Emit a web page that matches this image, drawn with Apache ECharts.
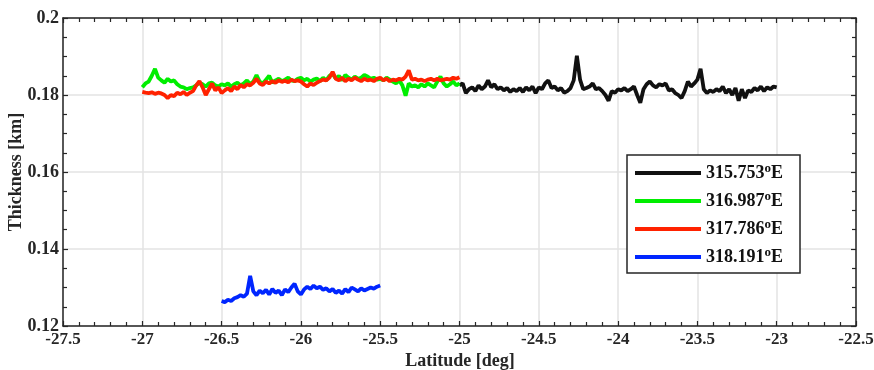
<!DOCTYPE html>
<html>
<head>
<meta charset="utf-8">
<script src="https://cdn.jsdelivr.net/npm/echarts@6/dist/echarts.min.js"></script>
<style>
  html, body { margin: 0; padding: 0; background: #fff; }
  #main { width: 874px; height: 370px; }
</style>
</head>
<body>
<div id="main"></div>
<script>
// sample spacing along latitude (deg)
var STEP = 0.02;

var seriesNames = ['315.753°E', '316.987°E', '317.786°E', '318.191°E'];
var seriesColors = ['#111111', '#00ee00', '#ff2200', '#0026ff'];
var seriesStart = [-25, -27, -27, -26.5];

var xTicks = [-27.5, -27, -26.5, -26, -25.5, -25, -24.5, -24, -23.5, -23, -22.5];
var yTicks = [0.12, 0.14, 0.16, 0.18, 0.2];

// 315.753 E, -25 .. -23
var thick315 = [
  0.1825, 0.1830, 0.1805, 0.1815, 0.1820, 0.1810, 0.1825, 0.1815, 0.1822, 0.1838,
  0.1820, 0.1828, 0.1815, 0.1820, 0.1812, 0.1818, 0.1808, 0.1815, 0.1810, 0.1818,
  0.1808, 0.1820, 0.1812, 0.1822, 0.1805, 0.1820, 0.1815, 0.1830, 0.1838, 0.1818,
  0.1822, 0.1812, 0.1818, 0.1806, 0.1810, 0.1818, 0.1838, 0.1902, 0.1840, 0.1815,
  0.1818, 0.1822, 0.1830, 0.1815, 0.1818, 0.1810, 0.1800, 0.1785, 0.1810, 0.1806,
  0.1815, 0.1812, 0.1818, 0.1810, 0.1815, 0.1822, 0.1800, 0.1780, 0.1815, 0.1828,
  0.1835, 0.1825, 0.1820, 0.1828, 0.1825, 0.1830, 0.1812, 0.1815, 0.1805, 0.1800,
  0.1792, 0.1810, 0.1835, 0.1822, 0.1830, 0.1840, 0.1868, 0.1815, 0.1805, 0.1812,
  0.1808, 0.1815, 0.1810, 0.1822, 0.1805, 0.1815, 0.1800, 0.1818, 0.1785, 0.1815,
  0.1792, 0.1812, 0.1808, 0.1818, 0.1812, 0.1822, 0.1810, 0.1820, 0.1815, 0.1822,
  0.1820
];

// 316.987 E, -27 .. -25
var thick316 = [
  0.1820, 0.1830, 0.1835, 0.1850, 0.1868, 0.1845, 0.1838, 0.1832, 0.1842, 0.1835,
  0.1838, 0.1828, 0.1822, 0.1820, 0.1815, 0.1818, 0.1820, 0.1825, 0.1832, 0.1828,
  0.1822, 0.1830, 0.1832, 0.1825, 0.1822, 0.1828, 0.1825, 0.1830, 0.1822, 0.1828,
  0.1832, 0.1825, 0.1830, 0.1838, 0.1828, 0.1835, 0.1852, 0.1835, 0.1830, 0.1840,
  0.1850, 0.1832, 0.1838, 0.1842, 0.1836, 0.1840, 0.1845, 0.1838, 0.1836, 0.1842,
  0.1845, 0.1838, 0.1842, 0.1835, 0.1840, 0.1843, 0.1836, 0.1845, 0.1838, 0.1850,
  0.1855, 0.1842, 0.1850, 0.1838, 0.1852, 0.1845, 0.1840, 0.1848, 0.1842, 0.1845,
  0.1852, 0.1848, 0.1842, 0.1845, 0.1840, 0.1842, 0.1838, 0.1845, 0.1840, 0.1835,
  0.1830, 0.1838, 0.1825, 0.1798, 0.1830, 0.1822, 0.1825, 0.1820, 0.1828, 0.1822,
  0.1830, 0.1825, 0.1820, 0.1835, 0.1848, 0.1830, 0.1822, 0.1828, 0.1835, 0.1825,
  0.1830
];

// 317.786 E, -27 .. -25
var thick317 = [
  0.1808, 0.1806, 0.1805, 0.1807, 0.1803, 0.1806, 0.1804, 0.1800, 0.1792, 0.1800,
  0.1797, 0.1806, 0.1802, 0.1808, 0.1800, 0.1806, 0.1810, 0.1825, 0.1836, 0.1820,
  0.1800, 0.1815, 0.1830, 0.1812, 0.1820, 0.1805, 0.1812, 0.1818, 0.1810, 0.1822,
  0.1815, 0.1826, 0.1820, 0.1828, 0.1825, 0.1832, 0.1842, 0.1830, 0.1826, 0.1835,
  0.1830, 0.1836, 0.1832, 0.1838, 0.1834, 0.1837, 0.1833, 0.1840, 0.1836, 0.1838,
  0.1835, 0.1828, 0.1822, 0.1830, 0.1826, 0.1832, 0.1836, 0.1840, 0.1838, 0.1845,
  0.1860, 0.1842, 0.1838, 0.1845, 0.1836, 0.1842, 0.1838, 0.1845, 0.1840, 0.1836,
  0.1842, 0.1838, 0.1840, 0.1836, 0.1842, 0.1845, 0.1838, 0.1842, 0.1836, 0.1840,
  0.1838, 0.1842, 0.1840, 0.1848, 0.1864, 0.1840, 0.1842, 0.1838, 0.1840, 0.1836,
  0.1840, 0.1842, 0.1838, 0.1842, 0.1838, 0.1840, 0.1842, 0.1840, 0.1845, 0.1842,
  0.1846
];

// 318.191 E, -26.5 .. -25.5
var thick318 = [
  0.1265, 0.1262, 0.1268, 0.1265, 0.1272, 0.1275, 0.1280, 0.1276, 0.1284, 0.1330,
  0.1290, 0.1280, 0.1292, 0.1285, 0.1294, 0.1282, 0.1296, 0.1286, 0.1292, 0.1280,
  0.1295, 0.1288, 0.1300, 0.1310, 0.1290, 0.1282, 0.1295, 0.1302, 0.1296, 0.1305,
  0.1298, 0.1302, 0.1294, 0.1298, 0.1290, 0.1296, 0.1286, 0.1292, 0.1284, 0.1296,
  0.1288, 0.1300, 0.1295, 0.1290, 0.1298, 0.1292, 0.1296, 0.1300, 0.1297, 0.1302,
  0.1305
];

var allThick = [thick315, thick316, thick317, thick318];

var FONT = '"Liberation Serif", "DejaVu Serif", serif';
var chart = echarts.init(document.getElementById('main'));

var toPairs = function (start, vals) {
    var out = [];
    for (var i = 0; i < vals.length; i++) {
        out.push([+(start + i * STEP).toFixed(2), vals[i]]);
    }
    return out;
};

var series = [];
for (var s = 0; s < seriesNames.length; s++) {
    series.push({
        name: seriesNames[s],
        type: 'line',
        xAxisIndex: 0,
        yAxisIndex: 0,
        showSymbol: false,
        symbol: 'none',
        smooth: false,
        lineStyle: {color: seriesColors[s], width: 3.8},
        itemStyle: {color: seriesColors[s]},
        data: toPairs(seriesStart[s], allThick[s])
    });
}

var tickStyle = {inside: true, length: 5, lineStyle: {color: '#262626', width: 1.2}};
var minorLine = {color: '#262626', width: 1.2};
var lineAxis = {show: true, lineStyle: {color: '#262626', width: 1.5}};
var titleStyle = {fontFamily: FONT, fontWeight: 'bold', fontSize: 18, fill: '#262626', align: 'center', verticalAlign: 'middle'};

option = {
    animation: false,
    backgroundColor: '#fff',
    grid: {left: 63, right: 18, top: 18, bottom: 44, outerBoundsMode: 'none', containLabel: false},
    // axis titles
    graphic: [{
        type: 'text',
        x: 460,
        y: 361,
        style: Object.assign({text: 'Latitude [deg]'}, titleStyle)
    }, {
        type: 'text',
        x: 16,
        y: 172,
        rotation: Math.PI / 2,
        style: Object.assign({text: 'Thickness [km]'}, titleStyle)
    }],
    legend: {
        orient: 'vertical',
        left: 627,
        top: 155,
        padding: [7, 17, 5, 8],
        itemGap: 6,
        itemWidth: 66,
        itemHeight: 4,
        icon: 'rect',
        borderColor: '#262626',
        borderWidth: 1.5,
        backgroundColor: '#fff',
        data: seriesNames,
        formatter: function (name) {
            return name.replace('°', '{sup|o}');
        },
        textStyle: {
            fontFamily: FONT,
            fontWeight: 'bold',
            fontSize: 18,
            color: '#111',
            lineHeight: 19,
            rich: {
                sup: {fontFamily: FONT, fontWeight: 'bold', fontSize: 13, color: '#111', lineHeight: 19, padding: [0, 0, 9, 0]}
            }
        }
    },
    xAxis: [{
        type: 'value',
        min: xTicks[0],
        max: xTicks[xTicks.length - 1],
        interval: 0.5,
        axisLine: lineAxis,
        axisTick: tickStyle,
        minorTick: {show: true, splitNumber: 5, length: 4, lineStyle: minorLine},
        splitLine: {show: true, lineStyle: {color: '#e3e3e3', width: 1.5}},
        axisLabel: {
            margin: 5,
            fontFamily: FONT, fontWeight: 'bold', fontSize: 17, color: '#262626',
            formatter: function (v) { return String(+v.toFixed(1)); }
        }
    }, {
        type: 'value',
        position: 'top',
        min: xTicks[0],
        max: xTicks[xTicks.length - 1],
        interval: 0.5,
        axisLine: lineAxis,
        axisTick: tickStyle,
        minorTick: {show: true, splitNumber: 5, length: 4, lineStyle: minorLine},
        splitLine: {show: false},
        axisLabel: {show: false}
    }],
    yAxis: [{
        type: 'value',
        min: yTicks[0],
        max: yTicks[yTicks.length - 1],
        interval: 0.02,
        axisLine: lineAxis,
        axisTick: tickStyle,
        minorTick: {show: true, splitNumber: 4, length: 4, lineStyle: minorLine},
        splitLine: {show: true, lineStyle: {color: '#e3e3e3', width: 1.5}},
        axisLabel: {
            margin: 4,
            fontFamily: FONT, fontWeight: 'bold', fontSize: 18, color: '#262626',
            formatter: function (v) { return String(+v.toFixed(2)); }
        }
    }, {
        type: 'value',
        position: 'right',
        min: yTicks[0],
        max: yTicks[yTicks.length - 1],
        interval: 0.02,
        axisLine: lineAxis,
        axisTick: tickStyle,
        minorTick: {show: true, splitNumber: 4, length: 4, lineStyle: minorLine},
        splitLine: {show: false},
        axisLabel: {show: false}
    }],
    series: series
};

chart.setOption(option);
</script>
</body>
</html>
